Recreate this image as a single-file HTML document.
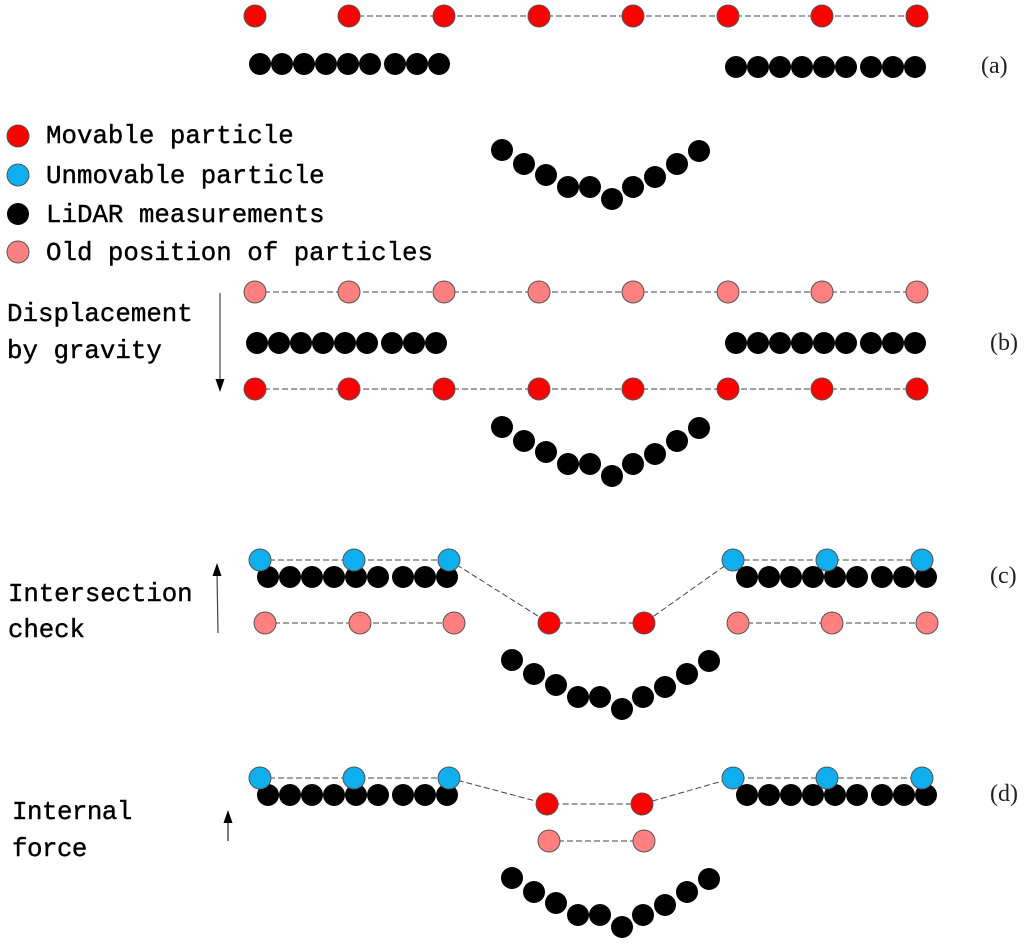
<!DOCTYPE html>
<html><head><meta charset="utf-8"><style>
html,body{margin:0;padding:0;background:#fff}
svg{display:block}
.t{font-family:"Liberation Mono",monospace;font-size:25.8px;fill:#000;stroke:#000;stroke-width:.4}
.l{font-family:"Liberation Serif",serif;font-size:24px;fill:#222}
.d{stroke:#444;stroke-width:1;stroke-dasharray:6 3;fill:none}
.r{fill:#f00;stroke:#555;stroke-width:1}
.b{fill:#0eaeef;stroke:#555;stroke-width:1}
.o{fill:#ff8080;stroke:#555;stroke-width:1}
.k{fill:#000}
</style></head><body>
<svg xmlns="http://www.w3.org/2000/svg" width="1024" height="945" viewBox="0 0 1024 945">
<defs>
<g id="kl"><circle class="k" cx="0" cy="0" r="11"/><circle class="k" cx="22" cy="0" r="11"/><circle class="k" cx="44" cy="0" r="11"/><circle class="k" cx="66" cy="0" r="11"/><circle class="k" cx="88" cy="0" r="11"/><circle class="k" cx="110" cy="0" r="11"/><circle class="k" cx="135" cy="0" r="11"/><circle class="k" cx="157" cy="0" r="11"/><circle class="k" cx="179" cy="0" r="11"/></g>
<g id="kv"><circle class="k" cx="0" cy="0" r="11"/><circle class="k" cx="22" cy="14" r="11"/><circle class="k" cx="44" cy="25" r="11"/><circle class="k" cx="66" cy="37" r="11"/><circle class="k" cx="88" cy="37" r="11"/><circle class="k" cx="110" cy="49" r="11"/><circle class="k" cx="131" cy="37" r="11"/><circle class="k" cx="153" cy="27" r="11"/><circle class="k" cx="175" cy="14" r="11"/><circle class="k" cx="197" cy="1" r="11"/></g>
</defs>

<!-- (a) -->
<line class="d" x1="349" y1="16" x2="917" y2="16"/>
<circle class="r" cx="255" cy="16" r="11"/><circle class="r" cx="349" cy="16" r="11"/><circle class="r" cx="444" cy="16" r="11"/><circle class="r" cx="539" cy="16" r="11"/><circle class="r" cx="633" cy="16" r="11"/><circle class="r" cx="728" cy="16" r="11"/><circle class="r" cx="822" cy="16" r="11"/><circle class="r" cx="917" cy="16" r="11"/>
<use href="#kl" x="260" y="64"/><use href="#kl" x="736" y="67"/>
<use href="#kv" x="502" y="150"/>
<text class="l" x="981" y="73">(a)</text>

<!-- legend -->
<circle class="r" cx="18" cy="136" r="11"/><circle class="b" cx="18" cy="175" r="11"/><circle class="k" cx="18" cy="214" r="11"/><circle class="o" cx="18" cy="252" r="11"/>
<text class="t" x="46" y="143">Movable particle</text>
<text class="t" x="46" y="183">Unmovable particle</text>
<text class="t" x="46" y="222">LiDAR measurements</text>
<text class="t" x="46" y="260">Old position of particles</text>

<!-- (b) -->
<text class="t" x="7" y="321">Displacement</text>
<text class="t" x="7" y="358">by gravity</text>
<line x1="220" y1="293" x2="220" y2="382" stroke="#444" stroke-width="1.2"/><polygon points="215.500,379 224.500,379 220,392" fill="#000"/>
<line class="d" x1="255" y1="292" x2="917" y2="292"/>
<circle class="o" cx="255" cy="292" r="11"/><circle class="o" cx="349" cy="292" r="11"/><circle class="o" cx="444" cy="292" r="11"/><circle class="o" cx="539" cy="292" r="11"/><circle class="o" cx="633" cy="292" r="11"/><circle class="o" cx="728" cy="292" r="11"/><circle class="o" cx="822" cy="292" r="11"/><circle class="o" cx="917" cy="292" r="11"/>
<use href="#kl" x="257" y="343"/><use href="#kl" x="736" y="343"/>
<line class="d" x1="255" y1="389" x2="917" y2="389"/>
<circle class="r" cx="255" cy="389" r="11"/><circle class="r" cx="349" cy="389" r="11"/><circle class="r" cx="444" cy="389" r="11"/><circle class="r" cx="539" cy="389" r="11"/><circle class="r" cx="633" cy="389" r="11"/><circle class="r" cx="728" cy="389" r="11"/><circle class="r" cx="822" cy="389" r="11"/><circle class="r" cx="917" cy="389" r="11"/>
<use href="#kv" x="502" y="427"/>
<text class="l" x="990" y="350">(b)</text>

<!-- (c) -->
<text class="t" x="8" y="601" letter-spacing="-.1">Intersection</text>
<text class="t" x="8" y="637" letter-spacing="-.1">check</text>
<line x1="218" y1="633" x2="217" y2="573" stroke="#444" stroke-width="1.2"/><polygon points="212.500,576 221.500,576 217,563" fill="#000"/>
<use href="#kl" x="268" y="577"/><use href="#kl" x="747" y="577"/>
<path class="d" d="M260 560H449L549 623H644L733 560H922"/>
<path class="d" d="M265 623H454M738 623H927"/>
<circle class="b" cx="260" cy="560" r="11"/><circle class="b" cx="354" cy="560" r="11"/><circle class="b" cx="449" cy="560" r="11"/><circle class="b" cx="733" cy="560" r="11"/><circle class="b" cx="827" cy="560" r="11"/><circle class="b" cx="922" cy="560" r="11"/>
<circle class="o" cx="265" cy="623" r="11"/><circle class="o" cx="360" cy="623" r="11"/><circle class="o" cx="454" cy="623" r="11"/><circle class="o" cx="738" cy="623" r="11"/><circle class="o" cx="832" cy="623" r="11"/><circle class="o" cx="927" cy="623" r="11"/>
<circle class="r" cx="549" cy="623" r="11"/><circle class="r" cx="644" cy="623" r="11"/>
<use href="#kv" x="512" y="660"/>
<text class="l" x="990" y="583">(c)</text>

<!-- (d) -->
<text class="t" x="12" y="819" letter-spacing="-.5">Internal</text>
<text class="t" x="12" y="856" letter-spacing="-.5">force</text>
<line x1="228" y1="841" x2="228" y2="820" stroke="#222" stroke-width="1.2"/><polygon points="223.500,823 232.500,823 228,810" fill="#000"/>
<use href="#kl" x="268" y="795"/><use href="#kl" x="747" y="795"/>
<path class="d" d="M260 778H449L547 804H642L733 778H922"/>
<line class="d" x1="549" y1="841" x2="644" y2="841"/>
<circle class="b" cx="260" cy="778" r="11"/><circle class="b" cx="354" cy="778" r="11"/><circle class="b" cx="449" cy="778" r="11"/><circle class="b" cx="733" cy="778" r="11"/><circle class="b" cx="827" cy="778" r="11"/><circle class="b" cx="922" cy="778" r="11"/>
<circle class="r" cx="547" cy="804" r="11"/><circle class="r" cx="642" cy="804" r="11"/>
<circle class="o" cx="549" cy="841" r="11"/><circle class="o" cx="644" cy="841" r="11"/>
<use href="#kv" x="512" y="878"/>
<text class="l" x="990" y="801">(d)</text>
</svg>
</body></html>
